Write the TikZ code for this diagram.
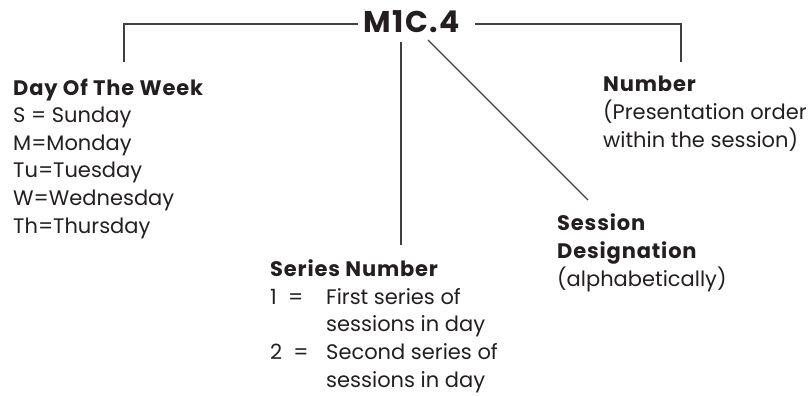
\documentclass[tikz,border=0pt]{standalone}
\usepackage{fontspec}
\setmainfont{Poppins}
\definecolor{ink}{HTML}{231F20}
\definecolor{wire}{HTML}{404040}
\newcommand{\hdtext}[1]{{\bfseries\addfontfeature{LetterSpace=4}#1}}
\newcommand{\numitem}[1]{\makebox[56pt][l]{#1}}
\begin{document}
\begin{tikzpicture}[x=1pt,y=-1pt,
  lbl/.style={anchor=base west,inner sep=0pt,align=left,text=ink,font=\fontsize{21}{27.6}\selectfont},
  conn/.style={draw=wire,line width=1.2pt}]
\useasboundingbox (0,0) rectangle (812,396);
\node[inner sep=0pt,anchor=base,text=ink,font=\fontsize{30}{31}\selectfont\bfseries\addfontfeature{LetterSpace=5}] (M) at (412,33) {M1C.4};
% anchors are the baseline of the last line of each block
\node[lbl] (day) at (13,233) {\hdtext{Day Of The Week}\\S = Sunday\\M=Monday\\Tu=Tuesday\\W=Wednesday\\Th=Thursday};
\node[lbl] (ser) at (270,387) {\hdtext{Series Number}\\\numitem{1 \ =}First series of\\\numitem{}sessions in day\\\numitem{2 \ =}Second series of\\\numitem{}sessions in day};
\node[lbl] (num) at (603,147) {\hdtext{Number}\\(Presentation order\\within the session)};
\node[lbl] (ses) at (557,286) {\hdtext{Session}\\\hdtext{Designation}\\(alphabetically)};
\coordinate (Ml) at (358,24);
\coordinate (Mr) at (475,24);
\coordinate (dayTop) at (124,62);
\coordinate (numTop) at (681,62);
\coordinate (Mb) at (401,42);
\coordinate (serTop) at (401,245);
\coordinate (Md) at (428,40);
\coordinate (sesTop) at (588,200);
\draw[conn] (Ml) -| (dayTop);
\draw[conn] (Mr) -| (numTop);
\draw[conn] (Mb) -- (serTop);
\draw[conn] (Md) -- (sesTop);
\end{tikzpicture}
\end{document}
